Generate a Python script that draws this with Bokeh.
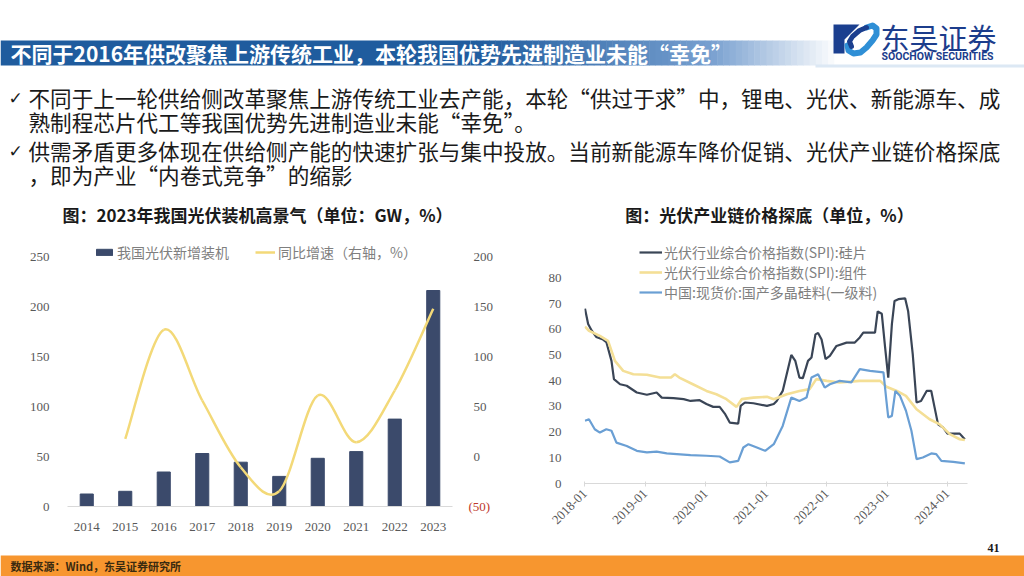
import numpy as np
import pandas as pd
from bokeh.plotting import figure
from bokeh.models import (Range1d, LinearAxis, FixedTicker, Legend, LegendItem,
                          DatetimeTickFormatter)
from bokeh.layouts import column, row
from bokeh.embed import file_html
from bokeh.resources import INLINE
from bokeh.core.properties import value

# ---------------- texts ----------------
slide_title = "不同于2016年供改聚焦上游传统工业，本轮我国优势先进制造业未能“幸免”"
bullet_lines = [
    "不同于上一轮供给侧改革聚焦上游传统工业去产能，本轮“供过于求”中，锂电、光伏、新能源车、成",
    "熟制程芯片代工等我国优势先进制造业未能“幸免”。",
    "供需矛盾更多体现在供给侧产能的快速扩张与集中投放。当前新能源车降价促销、光伏产业链价格探底",
    "，即为产业“内卷式竞争”的缩影",
]
left_title = "图：2023年我国光伏装机高景气（单位：GW，%）"
right_title = "图：光伏产业链价格探底（单位，%）"
source_text = "数据来源：Wind，东吴证券研究所"
page_no = "41"

# ---------------- left chart data ----------------
years = [2014, 2015, 2016, 2017, 2018, 2019, 2020, 2021, 2022, 2023]
new_install_gw = [12.5, 15.2, 34.5, 53.0, 44.3, 30.1, 48.2, 54.9, 87.4, 216.0]
yoy_years = [2015, 2016, 2017, 2018, 2019, 2020, 2021, 2022, 2023]
yoy_pct = [17.7, 126.7, 56.0, -10.7, -34.7, 61.0, 14.3, 66.0, 147.7]
left_ticks = [0, 50, 100, 150, 200, 250]
right_ticks = [0, 50, 100, 150, 200]
right_neg_tick = [-50]
right_neg_label = "(50)"
left_legend = ["我国光伏新增装机", "同比增速（右轴，%）"]

# ---------------- right chart data ----------------
wafer_dates = ["2018-01-01", "2018-01-20", "2018-02-10", "2018-03-10", "2018-04-20", "2018-05-10",
               "2018-06-10", "2018-06-25", "2018-08-01", "2018-09-10", "2018-11-10", "2019-01-10",
               "2019-03-10", "2019-04-10", "2019-06-20", "2019-08-20", "2019-10-01", "2019-11-25",
               "2020-01-05", "2020-02-15", "2020-03-25", "2020-04-25", "2020-05-25", "2020-07-15",
               "2020-07-30", "2020-08-25", "2020-10-15", "2021-01-05", "2021-02-15", "2021-03-05",
               "2021-04-10", "2021-06-01", "2021-06-25", "2021-07-20", "2021-08-10", "2021-09-10",
               "2021-10-01", "2021-10-25", "2021-11-10", "2021-12-01", "2021-12-25", "2022-01-20",
               "2022-03-01", "2022-05-01", "2022-06-20", "2022-07-20", "2022-08-10", "2022-10-20",
               "2022-11-05", "2022-11-30", "2022-12-20", "2023-01-08", "2023-01-30", "2023-02-15",
               "2023-03-10", "2023-04-20", "2023-05-08", "2023-06-05", "2023-06-28", "2023-07-25",
               "2023-08-28", "2023-09-25", "2023-10-15", "2023-11-05", "2023-12-05", "2024-01-01",
               "2024-02-05", "2024-03-15", "2024-04-05", "2024-04-15"]
wafer_spi = [68, 62, 59.5, 57, 56, 55,
             47.7, 40.6, 38.6, 38, 35.4, 34.5,
             35.4, 33.4, 33.2, 32.8, 32.1, 32.4,
             30.9, 29.8, 29.8, 27.2, 23.7, 23.3,
             30.2, 31.5, 31.2, 30.2, 30.9, 32.1,
             36, 50, 47.7, 41.2, 41, 47.7,
             49, 58, 58.5, 56, 48.4, 49.6,
             53.5, 54.8, 54.8, 56.8, 58.7, 58.7,
             66.9, 66, 52.9, 41.2, 62, 71,
             71.7, 72, 67.1, 50.3, 31.5, 32.1,
             36, 36, 29.6, 23, 21.8, 19.4,
             19.4, 19.4, 17.9, 17.2]

module_dates = ["2018-01-01", "2018-01-25", "2018-04-01", "2018-05-20", "2018-07-01", "2018-08-20",
                "2018-10-20", "2019-01-10", "2019-03-30", "2019-06-05", "2019-06-28", "2019-07-25",
                "2019-10-15", "2020-01-05", "2020-03-05", "2020-05-05", "2020-07-05", "2020-08-05",
                "2020-10-15", "2021-01-05", "2021-02-15", "2021-05-05", "2021-07-20", "2021-09-20",
                "2021-10-30", "2022-01-01", "2022-03-20", "2022-07-20", "2022-11-20", "2022-12-28",
                "2023-03-01", "2023-04-25", "2023-06-28", "2023-09-15", "2023-11-15", "2024-01-15",
                "2024-03-15", "2024-04-15"]
module_spi = [61, 59.4, 57.4, 55.5, 47.7, 43.8,
              42.5, 42.3, 41.2, 41.2, 42.5, 41.2,
              38.6, 36, 34.7, 32.8, 29.8, 32.8,
              33.4, 33.7, 32.8, 34.7, 36, 36.7,
              40.6, 39.9, 39.3, 39.9, 39.9, 37.6,
              36, 34.1, 28.9, 25, 23, 19.2,
              17.2, 16.9]

poly_dates = ["2018-01-01", "2018-01-25", "2018-03-01", "2018-04-01", "2018-05-10", "2018-06-10",
              "2018-07-10", "2018-09-10", "2018-11-10", "2019-01-10", "2019-03-10", "2019-05-10",
              "2019-07-10", "2019-10-01", "2020-01-05", "2020-03-25", "2020-05-25", "2020-07-15",
              "2020-08-15", "2020-09-15", "2020-11-05", "2020-12-25", "2021-02-15", "2021-04-10",
              "2021-06-01", "2021-07-20", "2021-09-01", "2021-10-01", "2021-11-10", "2021-12-20",
              "2022-01-20", "2022-03-20", "2022-05-30", "2022-07-20", "2022-09-20", "2022-12-10",
              "2022-12-28", "2023-01-08", "2023-01-30", "2023-02-20", "2023-03-20", "2023-04-25",
              "2023-05-28", "2023-06-28", "2023-08-05", "2023-09-25", "2023-10-25", "2023-11-25",
              "2024-02-05", "2024-04-15"]
poly_price = [24.4, 25, 21.1, 19.8, 21.1, 20.5,
              15.9, 14.6, 12.7, 12.1, 12.4, 11.7,
              11.4, 11, 10.8, 10.5, 8.2, 8.8,
              14, 15.3, 14, 12.7, 15.3, 22.4,
              33.4, 32.1, 33.4, 41.2, 42.5, 37.3,
              38.6, 39.9, 39.3, 44.5, 43.8, 43.2,
              32.1, 25.7, 26.3, 36, 34.1, 28.3,
              20.5, 9.5, 10.1, 11.7, 11.4, 8.8,
              8.4, 7.8]

right_legend = ["光伏行业综合价格指数(SPI):硅片", "光伏行业综合价格指数(SPI):组件", "中国:现货价:国产多晶硅料(一级料)"]
date_ticks = ["2018-01", "2019-01", "2020-01", "2021-01", "2022-01", "2023-01", "2024-01"]
right_yticks = [0, 10, 20, 30, 40, 50, 60, 70, 80]

CJK = "Noto Sans CJK SC"
SERIF = "Liberation Serif"
GRAY = "#595959"


def bare(fig):
    fig.grid.visible = False
    fig.outline_line_color = None


# ================= header (slide y 0..228) =================
hdr = figure(width=1024, height=228, x_range=Range1d(0, 1024), y_range=Range1d(228, 0),
             output_backend="svg", toolbar_location=None, min_border=0,
             x_axis_location=None, y_axis_location=None)
bare(hdr)

hdr.quad(left=[0], right=[470], top=[40], bottom=[65], color="#1f5c9e", line_color=None)
n = 60
edges = np.linspace(470, 840, n + 1)
c0 = np.array([31, 92, 158]); c1 = np.array([120, 160, 208]); c2 = np.array([255, 255, 255])
cols = []
for k in range(n):
    t = k / (n - 1)
    c = c0 + (c1 - c0) * (t / 0.65) if t < 0.65 else c1 + (c2 - c1) * ((t - 0.65) / 0.35)
    cols.append("#%02x%02x%02x" % tuple(int(v) for v in c))
hdr.quad(left=edges[:-1], right=edges[1:] + 0.5, top=40, bottom=65, color=cols, line_color=None)
hdr.quad(left=[815], right=[1024], top=[64], bottom=[67], color="#dce8f4", line_color=None)

hdr.text(x=[10], y=[52], text=[slide_title], text_font=value(CJK), text_font_size="21px",
         text_font_style="bold", text_color="white", text_baseline="middle")

# logo icon: navy block + blue swoosh
hdr.patch(x=[833, 859, 844, 844, 833], y=[24, 24, 39, 53, 53], color="#1b3f8f", line_color=None)
hdr.line(x=[847, 848, 853, 860, 866, 872, 876, 876, 872, 866],
         y=[45, 50, 53, 52, 47, 40, 34, 28, 25, 27],
         line_color="#2f8fd6", line_width=6, line_cap="round", line_join="round")
hdr.line(x=[866, 859, 852, 849, 851],
         y=[27, 30, 36, 41, 46],
         line_color="#1b3f8f", line_width=5, line_cap="round", line_join="round")
hdr.text(x=[880], y=[36], text=["东吴证券"], text_font=value(CJK), text_font_size="29px",
         text_color="#1c3d8c", text_baseline="middle")
hdr.text(x=[881], y=[56], text=["SOOCHOW SECURITIES"], text_font=value("Roboto"),
         text_font_size="10.5px", text_font_style="bold", text_color="#1c3d8c", text_baseline="middle")

# bullets
hdr.text(x=[8, 8], y=[97, 150], text=["✓", "✓"], text_font=value("DejaVu Sans"),
         text_font_size="17px", text_font_style="bold", text_color="#1a1a1a", text_baseline="middle")
hdr.text(x=[28, 28, 28, 28], y=[97, 121, 150, 174], text=bullet_lines, text_font=value(CJK),
         text_font_size="21.6px", text_color="#1a1a1a", text_baseline="middle")

# chart titles
hdr.text(x=[257, 769], y=[214, 214], text=[left_title, right_title], text_font=value(CJK),
         text_font_size="17px", text_font_style="bold", text_color="#1a1a1a",
         text_baseline="middle", text_align="center")

# ================= left chart (x 0..500, y 228..540) =================
lp = figure(width=500, height=312, x_range=Range1d(years[0] - 0.5, years[-1] + 0.5),
            y_range=Range1d(0, 271), output_backend="svg", toolbar_location=None,
            min_border_left=67, min_border_right=48, min_border_top=7, min_border_bottom=34)
bare(lp)
lp.extra_y_ranges = {"yoy": Range1d(-50, 221)}

bars = lp.vbar(x=years, top=new_install_gw, width=0.34, color="#3b4a6b")

yx = np.array(yoy_years, float)
yy = np.array(yoy_pct, float)
px = np.concatenate([[yx[0]], yx, [yx[-1]]])
py = np.concatenate([[yy[0]], yy, [yy[-1]]])
cx0 = yx[:-1] + (px[2:-1] - px[0:-3]) / 6
cy0 = yy[:-1] + (py[2:-1] - py[0:-3]) / 6
cx1 = yx[1:] - (px[3:] - px[1:-2]) / 6
cy1 = yy[1:] - (py[3:] - py[1:-2]) / 6
yline = lp.bezier(x0=yx[:-1], y0=yy[:-1], x1=yx[1:], y1=yy[1:], cx0=cx0, cy0=cy0, cx1=cx1, cy1=cy1,
                  line_color="#f3d978", line_width=2.5, y_range_name="yoy")

lax = lp.yaxis[0]
lax.ticker = FixedTicker(ticks=left_ticks)
lax.major_label_standoff = 12
# inner right axis: red negative label; outer right axis: grey labels
rax_neg = LinearAxis(y_range_name="yoy", ticker=FixedTicker(ticks=right_neg_tick),
                     major_label_overrides={right_neg_tick[0]: right_neg_label},
                     major_label_standoff=10, major_label_text_color="#c0392b")
rax = LinearAxis(y_range_name="yoy", ticker=FixedTicker(ticks=right_ticks),
                 major_label_standoff=-26, major_label_text_color=GRAY)
lp.add_layout(rax_neg, "right")
lp.add_layout(rax, "right")
for ax in [lax, rax_neg, rax]:
    ax.axis_line_color = None
    ax.major_tick_line_color = None
    ax.minor_tick_line_color = None
    ax.major_label_text_font = SERIF
    ax.major_label_text_font_size = "13px"
lax.major_label_text_color = GRAY
xa = lp.xaxis[0]
xa.ticker = FixedTicker(ticks=years)
xa.axis_line_color = "#d9d9d9"
xa.major_tick_line_color = None
xa.minor_tick_line_color = None
xa.major_label_standoff = 10
xa.major_label_text_font = SERIF
xa.major_label_text_font_size = "13px"
xa.major_label_text_color = GRAY

lleg = Legend(items=[LegendItem(label=left_legend[0], renderers=[bars]),
                     LegendItem(label=left_legend[1], renderers=[yline])],
              orientation="horizontal", location=(27, 244), padding=0, margin=0, spacing=26,
              glyph_width=20, glyph_height=8, label_height=14, label_standoff=3,
              background_fill_alpha=0, border_line_alpha=0,
              label_text_font=CJK, label_text_font_size="14px", label_text_color="#7f7f7f")
lp.add_layout(lleg)

# ================= right chart (x 500..1024, y 228..540) =================
rp = figure(width=524, height=312, x_axis_type="datetime",
            x_range=Range1d(pd.Timestamp("2017-12-29"), pd.Timestamp("2024-05-01")),
            y_range=Range1d(0, 96.45), output_backend="svg", toolbar_location=None,
            min_border_left=84, min_border_right=57, min_border_top=7, min_border_bottom=57)
bare(rp)

r1 = rp.line(pd.to_datetime(wafer_dates), wafer_spi, line_color="#3a4556", line_width=2.2)
r2 = rp.line(pd.to_datetime(module_dates), module_spi, line_color="#f4df96", line_width=2.6)
r3 = rp.line(pd.to_datetime(poly_dates), poly_price, line_color="#6a9fd4", line_width=2.2)

ya = rp.yaxis[0]
ya.ticker = FixedTicker(ticks=right_yticks)
ya.axis_line_color = None
ya.major_tick_line_color = None
ya.minor_tick_line_color = None
ya.major_label_standoff = 17
ya.major_label_text_font = SERIF
ya.major_label_text_font_size = "13px"
ya.major_label_text_color = GRAY

tick_ms = list((pd.to_datetime(date_ticks) - pd.Timestamp("1970-01-01")) // pd.Timedelta("1ms"))
dx = rp.xaxis[0]
dx.ticker = FixedTicker(ticks=tick_ms)
fmt = "%Y-%m"
dx.formatter = DatetimeTickFormatter(years=fmt, months=fmt, days=fmt, hours=fmt, minutes=fmt,
                                     seconds=fmt, milliseconds=fmt, microseconds=fmt)
dx.axis_line_color = "#d9d9d9"
dx.major_tick_line_color = "#d9d9d9"
dx.major_tick_in = 2
dx.major_tick_out = 3
dx.minor_tick_line_color = None
dx.major_label_orientation = np.pi / 4
dx.major_label_standoff = 5
dx.major_label_text_font = SERIF
dx.major_label_text_font_size = "13px"
dx.major_label_text_color = GRAY

rleg = Legend(items=[LegendItem(label=right_legend[0], renderers=[r1]),
                     LegendItem(label=right_legend[1], renderers=[r2]),
                     LegendItem(label=right_legend[2], renderers=[r3])],
              orientation="vertical", location=(55, 181), padding=0, margin=0, spacing=0,
              glyph_width=23, glyph_height=20, label_height=20, label_standoff=2,
              background_fill_alpha=0, border_line_alpha=0,
              label_text_font=CJK, label_text_font_size="14px", label_text_color="#7f7f7f")
rp.add_layout(rleg)

# ================= footer (y 540..576) =================
ftr = figure(width=1024, height=36, x_range=Range1d(0, 1024), y_range=Range1d(576, 540),
             output_backend="svg", toolbar_location=None, min_border=0,
             x_axis_location=None, y_axis_location=None)
bare(ftr)
ftr.quad(left=[0], right=[1024], top=[555], bottom=[576], color="#f7962f", line_color=None)
ftr.text(x=[993], y=[547], text=[page_no], text_font=value(SERIF), text_font_size="12px",
         text_font_style="bold", text_color="#1a1a1a", text_baseline="middle", text_align="center")
ftr.text(x=[10], y=[565], text=[source_text], text_font=value(CJK), text_font_size="11px",
         text_font_style="bold", text_color="#3a2a10", text_baseline="middle")

p = column(hdr, row(column(lp), column(rp)), ftr)
open("out.html", "w").write(file_html(p, INLINE))
